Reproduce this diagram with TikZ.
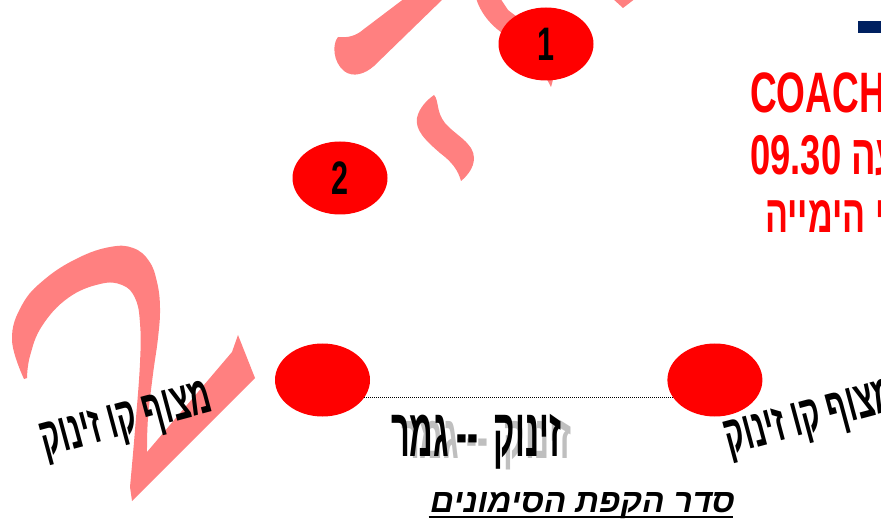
\documentclass[tikz,border=0pt]{standalone}
\usepackage{fontspec}
\setmainfont{Liberation Sans}
\newfontfamily\narrowfont[Script=Hebrew,FakeStretch=0.65]{Liberation Sans}
\newfontfamily\tallfont[Script=Hebrew,FakeStretch=0.55]{Liberation Sans}
\newfontfamily\thinfont[Script=Hebrew,FakeStretch=0.48]{Liberation Sans}
\newfontfamily\slantfont[Script=Hebrew,FakeSlant=0.2]{Liberation Sans}
\TeXXeTstate=1
\usepackage{tikz}
\usetikzlibrary{positioning,shapes.geometric}
\definecolor{markRed}{RGB}{255,0,0}
\definecolor{markPink}{RGB}{255,128,128}
\definecolor{markNavy}{RGB}{0,32,96}
\newcommand{\golegs}{\beginR זינוק\hspace{16pt}-{}-\hspace{7pt}גמר\endR}
\tikzset{
  marker/.style={ellipse,fill=markRed,minimum width=95pt,minimum height=73pt,
    inner sep=0pt,font=\narrowfont\bfseries\fontsize{47}{47}\selectfont},
  headline/.style={anchor=base west,inner sep=0pt,text=markRed},
  buoylabel/.style={anchor=base,rotate=15,inner sep=0pt,
    font=\tallfont\bfseries\fontsize{54}{54}\selectfont},
  golabel/.style={anchor=base,inner sep=0pt,
    font=\thinfont\bfseries\fontsize{68}{68}\selectfont},
  dotline/.style={draw=black,line width=0.8pt,dash pattern=on 1pt off 1pt}
}

\begin{document}
\begin{tikzpicture}[x=1pt,y=-1pt,node distance=297pt]
  \useasboundingbox (0,0) rectangle (881,521);
  \clip (0,0) rectangle (881,521);
  % pink backdrop digits
  \fill[markPink] plot[smooth,tension=0.7] coordinates {(24,379) (12,340) (22,305)
      (45,279) (78,258) (110,247) (133,248) (149,261) (157,282) (160,308) (158,338)
      (153,374) (148,418) (147,452)}
    -- (232,352) -- (238,335) -- (255,378) -- (132,501)
    -- plot[smooth,tension=0.7] coordinates {(130,487) (135,430) (140,363) (140,323)
      (135,298) (122,285) (100,284) (68,298) (42,326) (30,356) (27,378)} -- cycle;
  \fill[markPink] (405,-2) -- (364,29) .. controls (356,36) and (348,38) .. (338,37)
    .. controls (332,44) and (333,62) .. (344,71) .. controls (353,78) and (365,74) .. (374,66)
    -- (444,-2) -- cycle;
  \fill[markPink] (476,-2) .. controls (480,12) and (490,25) .. (505,35)
    .. controls (525,50) and (540,65) .. (551,87) .. controls (555,75) and (556,60) .. (550,45)
    .. controls (540,30) and (520,20) .. (508,10) -- (500,-2) -- cycle;
  \fill[markPink] (612,-2) -- (623,8) -- (636,-2) -- cycle;
  \fill[markPink] (434,95) .. controls (439,100) and (436,112) .. (445,123)
    .. controls (455,135) and (474,143) .. (474,158) .. controls (474,168) and (467,176) .. (461,181)
    .. controls (458,170) and (452,162) .. (440,153) .. controls (425,140) and (415,130) .. (417,118)
    .. controls (419,108) and (427,100) .. (434,95) -- cycle;
  % title block
  \fill[markNavy] (858,21) rectangle (890,33);
  \node[headline,font=\narrowfont\bfseries\fontsize{57}{57}\selectfont] (coach) at (750,113) {COACH};
  \node[headline,font=\narrowfont\bfseries\fontsize{56}{56}\selectfont] (time) at (750,175)
    {\beginR עה \beginL 09.30\endL\endR};
  \node[headline,font=\narrowfont\bfseries\fontsize{52.5}{52.5}\selectfont] (place) at (765,233)
    {\beginR י הימייה\endR};
  % marks
  \node[marker] (m1) at (546,44) {\raisebox{-3pt}{1}};
  \node[marker] (m2) at (340,178) {\raisebox{-3pt}{2}};
  \node[marker] (start) at (322.5,380) {};
  \node[marker,right=of start] (finish) {};
  \draw[dotline] (start.-23) -- (finish.-157);
  \node[buoylabel] (buoy-l) at (130,434) {\beginR מצוף קו זינוק\endR};
  \node[buoylabel] (buoy-r) at (814,432) {\beginR מצוף קו זינוק\endR};
  \node[golabel,text=black!25,yscale=0.9] (go-shadow) at (486,458) {\golegs};
  \node[golabel] (go) at (476,456) {\golegs};
  \node[anchor=base,inner sep=0pt,font=\slantfont\bfseries\fontsize{33}{33}\selectfont]
    (order) at (581,512) {\beginR סדר הקפת הסימונים\endR};
  \draw[line width=2.6pt] ([yshift=-5pt]order.base west) -- ([yshift=-5pt]order.base east);
\end{tikzpicture}
\end{document}
